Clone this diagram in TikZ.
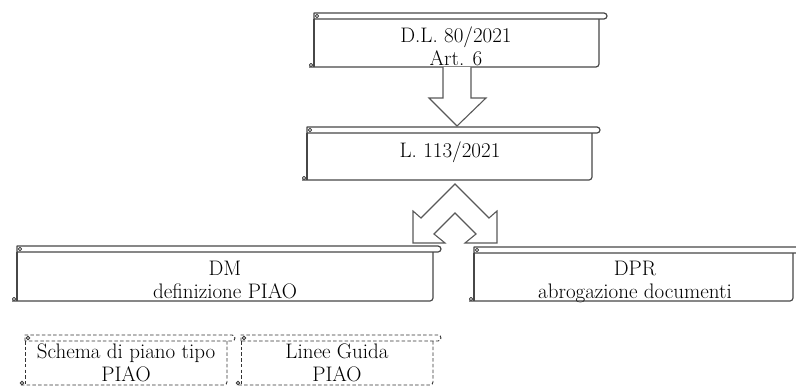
\documentclass[tikz,border=0pt]{standalone}
\usepackage{tikz}
\tikzset{
  frame/.style={draw=black!72, line width=1.2pt, line join=round},
  dframe/.style={draw=black!80, line width=0.9pt, dash pattern=on 3.5pt off 2.2pt},
  txt/.style={align=center, inner sep=0pt, anchor=base, font=\fontsize{21}{23}\selectfont},
  blockarrow/.style={draw=black!65, line width=1.1pt, fill=white, line join=miter},
}
% #1 style, #2 L, #3 T, #4 R, #5 B
\newcommand{\scrollframe}[5]{%
  \draw[#1] (#2,#3+6) -- (#2,#3) -- (#4+5,#3) arc[start angle=-90,end angle=90,radius=3] -- (#2,#3+6);
  \draw[#1] (#2,#3+6) -- (#2,#5);
  \draw[#1,rounded corners=3] (#4,#3+6) -- (#4,#5) -- (#2-5,#5);
  \draw[#1,solid,line width=0.8pt] (#2+3,#3+3) circle[radius=1.7];
  \draw[#1,solid,line width=0.8pt] (#2-3,#5-2) circle[radius=1.7];
}
\begin{document}
\begin{tikzpicture}[x=1pt,y=-1pt]
\useasboundingbox (0,0) rectangle (796,388);
\begin{scope}
\clip (0,0) rectangle (796,388);
% scroll frames
\scrollframe{frame}{314}{13}{599}{67}
\scrollframe{frame}{307}{127}{592}{180}
\scrollframe{frame}{17}{246}{433}{301}
\scrollframe{frame}{474}{247}{793}{301}
\scrollframe{dframe}{25}{335}{227}{385}
\scrollframe{dframe}{241}{335}{433}{385}
% texts (base anchor = baseline of last line)
\node[txt] (dl) at (456,65) {D.L. 80/2021\\Art. 6};
\node[txt] (l113) at (450,157) {L. 113/2021};
\node[txt] (dm) at (225,298) {DM\\definizione PIAO};
\node[txt] (dpr) at (635,298) {DPR\\abrogazione documenti};
\node[txt] (schema) at (126,381) {Schema di piano tipo\\PIAO};
\node[txt] (linee) at (337,381) {Linee Guida\\PIAO};
\end{scope}
% block arrow down
\draw[blockarrow] (443,67) -- (443,98) -- (429,98) -- (457,126) -- (486,98) -- (471,98) -- (471,67);
% double chevron arrow
\draw[blockarrow] (455,184) -- (421,218) -- (413,211) -- (413,243) -- (445,243) -- (434,234)
  -- (455,213) -- (476,234) -- (465,243) -- (497,243) -- (497,211) -- (489,218) -- cycle;
\end{tikzpicture}
\end{document}
